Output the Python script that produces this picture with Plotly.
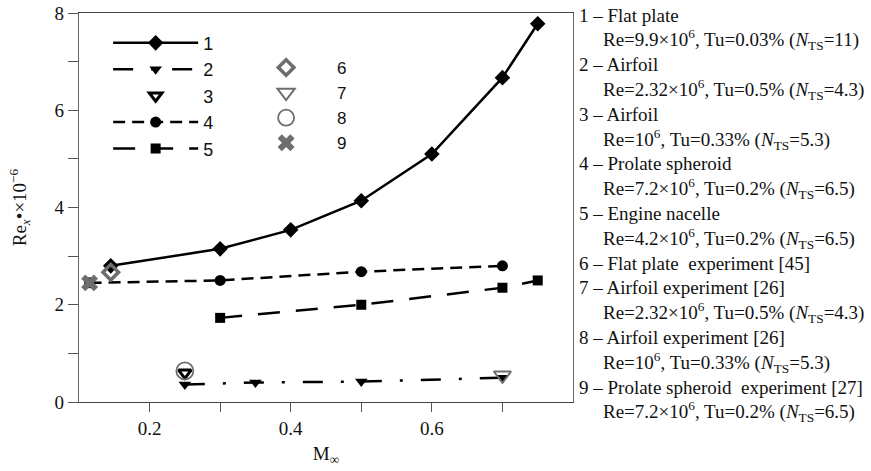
import plotly.graph_objects as go

# ---- data ----
m1 = [0.145, 0.3, 0.4, 0.5, 0.6, 0.7, 0.75]
re1 = [2.8, 3.15, 3.54, 4.14, 5.1, 6.67, 7.78]

m2 = [0.25, 0.35, 0.5, 0.7]
re2 = [0.36, 0.4, 0.42, 0.5]

m3 = [0.25]
re3 = [0.6]

m4 = [0.115, 0.3, 0.5, 0.7]
re4 = [2.45, 2.5, 2.68, 2.8]

m5 = [0.3, 0.5, 0.7, 0.75]
re5 = [1.73, 2.0, 2.35, 2.5]

m6 = [0.145]
re6 = [2.67]

m7 = [0.7]
re7 = [0.55]

m8 = [0.25]
re8 = [0.64]

m9 = [0.115]
re9 = [2.45]

series_names = ["1", "2", "3", "4", "5", "6", "7", "8", "9"]

x_tickvals = [0.2, 0.3, 0.4, 0.5, 0.6, 0.7]
x_ticktext = ["0.2", "", "0.4", "", "0.6", ""]
y_tickvals = [0, 1, 2, 3, 4, 5, 6, 7, 8]
y_ticktext = ["0", "", "2", "", "4", "", "6", "", "8"]

notes = [
    "1 – Flat plate",
    "Re=9.9×10<sup>6</sup>, Tu=0.03% (<i>N</i><sub>TS</sub>=11)",
    "2 – Airfoil",
    "Re=2.32×10<sup>6</sup>, Tu=0.5% (<i>N</i><sub>TS</sub>=4.3)",
    "3 – Airfoil",
    "Re=10<sup>6</sup>, Tu=0.33% (<i>N</i><sub>TS</sub>=5.3)",
    "4 – Prolate spheroid",
    "Re=7.2×10<sup>6</sup>, Tu=0.2% (<i>N</i><sub>TS</sub>=6.5)",
    "5 – Engine nacelle",
    "Re=4.2×10<sup>6</sup>, Tu=0.2% (<i>N</i><sub>TS</sub>=6.5)",
    "6 – Flat plate  experiment [45]",
    "7 – Airfoil experiment [26]",
    "Re=2.32×10<sup>6</sup>, Tu=0.5% (<i>N</i><sub>TS</sub>=4.3)",
    "8 – Airfoil experiment [26]",
    "Re=10<sup>6</sup>, Tu=0.33% (<i>N</i><sub>TS</sub>=5.3)",
    "9 – Prolate spheroid  experiment [27]",
    "Re=7.2×10<sup>6</sup>, Tu=0.2% (<i>N</i><sub>TS</sub>=6.5)",
]

BLACK = "#000000"
GRAY = "#6e6e6e"

fig = go.Figure()

fig.add_trace(go.Scatter(x=m1, y=re1, name=series_names[0], mode="lines+markers",
                         line=dict(color=BLACK, width=2.5),
                         marker=dict(symbol="diamond", size=12, color=BLACK),
                         legend="legend"))
fig.add_trace(go.Scatter(x=m2, y=re2, name=series_names[1], mode="lines+markers",
                         line=dict(color=BLACK, width=2.5, dash="20px,18px,3px,18px"),
                         marker=dict(symbol="triangle-down", size=11, color=BLACK),
                         legend="legend"))
fig.add_trace(go.Scatter(x=m3, y=re3, name=series_names[2], mode="markers",
                         marker=dict(symbol="triangle-down-open", size=11, color=BLACK,
                                     line=dict(width=3, color=BLACK)),
                         legend="legend"))
fig.add_trace(go.Scatter(x=m4, y=re4, name=series_names[3], mode="lines+markers",
                         line=dict(color=BLACK, width=2.5, dash="12px,7px"),
                         marker=dict(symbol="circle", size=11, color=BLACK),
                         legend="legend"))
fig.add_trace(go.Scatter(x=m5, y=re5, name=series_names[4], mode="lines+markers",
                         line=dict(color=BLACK, width=2.5, dash="22px,16px"),
                         marker=dict(symbol="square", size=10, color=BLACK),
                         legend="legend"))

fig.add_trace(go.Scatter(x=m6, y=re6, name=series_names[5], mode="markers",
                         marker=dict(symbol="diamond-open", size=12, color=GRAY,
                                     line=dict(width=3.5, color=GRAY)),
                         legend="legend2"))
fig.add_trace(go.Scatter(x=m7, y=re7, name=series_names[6], mode="markers",
                         marker=dict(symbol="triangle-down-open", size=15, color=GRAY,
                                     line=dict(width=2, color=GRAY)),
                         legend="legend2"))
fig.add_trace(go.Scatter(x=m8, y=re8, name=series_names[7], mode="markers",
                         marker=dict(symbol="circle-open", size=17, color=GRAY,
                                     line=dict(width=1.8, color=GRAY)),
                         legend="legend2"))
fig.add_trace(go.Scatter(x=m9, y=re9, name=series_names[8], mode="markers",
                         marker=dict(symbol="x", size=15, color=GRAY,
                                     line=dict(width=0)),
                         legend="legend2"))

SERIF = "'Liberation Serif', 'Times New Roman', Tinos, 'DejaVu Serif', serif"
SANS = "'Liberation Sans', Arial, sans-serif"

W, H = 871, 471
L, T = 79, 13
R = W - 573
B = H - 402
plot_w = W - L - R
plot_h = H - T - B

line0, step = 15.0, 24.8
for i, txt in enumerate(notes):
    indent = not txt[0].isdigit()
    px = 602 if indent else 578
    py = line0 + i * step
    fig.add_annotation(
        text=txt, xref="paper", yref="paper",
        x=(px - L) / plot_w, y=(H - B - py) / plot_h,
        xanchor="left", yanchor="middle", showarrow=False,
        font=dict(family=SERIF, size=19, color="#111"),
        align="left", borderpad=0,
    )

fig.update_layout(
    width=W, height=H,
    margin=dict(l=L, r=R, t=T, b=B, autoexpand=False),
    paper_bgcolor="white", plot_bgcolor="white",
    showlegend=True,
    legend=dict(x=0.059, y=0.97, xanchor="left", yanchor="top",
                bgcolor="rgba(0,0,0,0)", font=dict(family=SANS, size=18, color="#111"),
                itemwidth=85, tracegroupgap=0),
    legend2=dict(x=0.316, y=0.905, xanchor="left", yanchor="top",
                 bgcolor="rgba(0,0,0,0)", font=dict(family=SANS, size=17, color="#111"),
                 itemwidth=92, tracegroupgap=0),
    xaxis=dict(range=[0.1, 0.8], tickmode="array", tickvals=x_tickvals, ticktext=x_ticktext,
               ticks="outside", ticklen=9, tickwidth=1, tickcolor="#555",
               showline=True, linecolor="#444", linewidth=1.2, mirror=True,
               showgrid=False, zeroline=False, automargin=False,
               ticklabeloverflow="allow",
               tickfont=dict(family=SERIF, size=19, color="#111"),
               title=dict(text="M<sub>∞</sub>", font=dict(family=SERIF, size=19, color="#111"),
                          standoff=8)),
    yaxis=dict(range=[0, 8], tickmode="array", tickvals=y_tickvals, ticktext=y_ticktext,
               ticks="outside", ticklen=10, tickwidth=1, tickcolor="#555",
               showline=True, linecolor="#666", linewidth=1.2, mirror=True,
               showgrid=False, zeroline=False, automargin=False,
               ticklabeloverflow="allow",
               tickfont=dict(family=SERIF, size=19, color="#111"),
               title=dict(text="Re<sub><i>x</i></sub>•×10<sup>−6</sup>",
                          font=dict(family=SERIF, size=19, color="#111"), standoff=22)),
)

# remove the default 8px page margin so the figure fills the window exactly
fig.write_html("out.html", config={"displayModeBar": False},
               post_script="document.body.style.margin='0px';")
